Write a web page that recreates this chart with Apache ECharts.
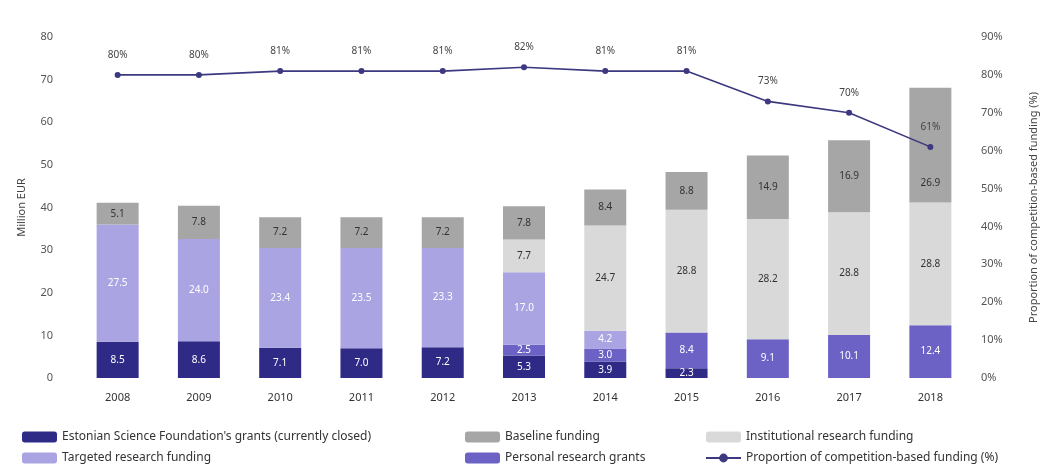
<!DOCTYPE html>
<html>
<head>
<meta charset="utf-8">
<script src="https://cdn.jsdelivr.net/npm/echarts@6/dist/echarts.min.js"></script>
<style>
  html, body { margin: 0; padding: 0; background: #ffffff; }
  #chart { width: 1051px; height: 471px; }
</style>
</head>
<body>
<div id="chart"></div>
<script>
// Research funding by instrument, million EUR, plus share of competition-based funding
const years = ['2008', '2009', '2010', '2011', '2012', '2013', '2014', '2015', '2016', '2017', '2018'];
const esfGrants     = [8.5, 8.6, 7.1, 7.0, 7.2, 5.3, 3.9, 2.3, null, null, null];
const personalGrants = [null, null, null, null, null, 2.5, 3.0, 8.4, 9.1, 10.1, 12.4];
const targetedFunding = [27.5, 24.0, 23.4, 23.5, 23.3, 17.0, 4.2, null, null, null, null];
const institutionalFunding = [null, null, null, null, null, 7.7, 24.7, 28.8, 28.2, 28.8, 28.8];
const baselineFunding = [5.1, 7.8, 7.2, 7.2, 7.2, 7.8, 8.4, 8.8, 14.9, 16.9, 26.9];
const competitionShare = [80, 80, 81, 81, 81, 82, 81, 81, 73, 70, 61];
const leftTicks = [0, 80, 10];   // min, max, step
const rightTicks = [0, 90, 10];

const FONT = '"Noto Sans", "Open Sans", sans-serif';

// labelShift: optional {index: [dx, dy]} to move a segment label clear of the line
function barSeries(name, data, color, labelColor, labelShift) {
  const items = data.map((v, i) => {
    if (labelShift && labelShift[i]) {
      return { value: v, label: { offset: labelShift[i] } };
    }
    return v;
  });
  return {
    name: name,
    type: 'bar',
    stack: 'funding',
    barWidth: 42,
    data: items,
    itemStyle: { color: color },
    label: {
      show: true,
      position: 'inside',
      color: labelColor,
      fontSize: 10,
      fontFamily: FONT,
      formatter: p => (p.value == null ? '' : p.value.toFixed(1))
    }
  };
}

const chart = echarts.init(document.getElementById('chart'), null, { renderer: 'canvas' });

const legendText = { fontSize: 12, color: '#333', fontFamily: FONT };
const legendBase = {
  orient: 'vertical',
  top: 426,
  itemWidth: 35,
  itemHeight: 11,
  itemGap: 9,
  textStyle: legendText,
  selectedMode: false
};

chart.setOption({
  animation: false,
  textStyle: { fontFamily: FONT },
  grid: { left: 77, right: 80, top: 37, height: 341, containLabel: false },
  legend: [
    Object.assign({}, legendBase, { left: 17, data: ["Estonian Science Foundation's grants (currently closed)", 'Targeted research funding'] }),
    Object.assign({}, legendBase, { left: 460, data: ['Baseline funding', 'Personal research grants'] }),
    Object.assign({}, legendBase, { left: 700, data: ['Institutional research funding', 'Proportion of competition-based funding (%)'] })
  ],
  xAxis: {
    type: 'category',
    data: years,
    axisLine: { show: false },
    axisTick: { show: false },
    axisLabel: { color: '#333', fontSize: 11, margin: 14 }
  },
  yAxis: [
    {
      type: 'value',
      min: leftTicks[0], max: leftTicks[1], interval: leftTicks[2],
      name: 'Million EUR',
      nameLocation: 'middle',
      nameGap: 50,
      nameTextStyle: { color: '#444', fontSize: 11 },
      axisLine: { show: false },
      axisTick: { show: false },
      splitLine: { show: false },
      axisLabel: { color: '#555', fontSize: 11, margin: 24 }
    },
    {
      type: 'value',
      min: rightTicks[0], max: rightTicks[1], interval: rightTicks[2],
      name: 'Proportion of competition-based funding (%)',
      nameLocation: 'middle',
      nameGap: 57,
      nameTextStyle: { color: '#444', fontSize: 11 },
      axisLine: { show: false },
      axisTick: { show: false },
      splitLine: { show: false },
      axisLabel: { color: '#555', fontSize: 11, margin: 10, formatter: '{value}%' }
    }
  ],
  series: [
    barSeries("Estonian Science Foundation's grants (currently closed)", esfGrants, '#2f2a85', '#ffffff'),
    barSeries('Personal research grants', personalGrants, '#6c62c6', '#ffffff'),
    barSeries('Targeted research funding', targetedFunding, '#aba4e2', '#ffffff'),
    barSeries('Institutional research funding', institutionalFunding, '#d9d9d9', '#333333'),
    barSeries('Baseline funding', baselineFunding, '#a6a6a6', '#333333', { 10: [0, 38] }),
    {
      name: 'Proportion of competition-based funding (%)',
      type: 'line',
      yAxisIndex: 1,
      data: competitionShare,
      symbol: 'circle',
      symbolSize: 6,
      lineStyle: { color: '#3c3980', width: 1.6 },
      itemStyle: { color: '#3c3980' },
      label: {
        show: true,
        position: 'top',
        distance: 12,
        color: '#444',
        fontSize: 10,
        formatter: '{c}%'
      },
      z: 5
    }
  ]
});
</script>
</body>
</html>
